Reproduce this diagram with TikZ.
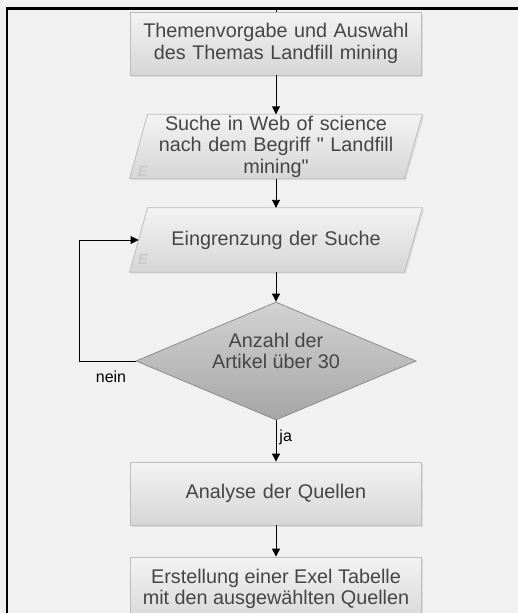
\documentclass[tikz,border=0pt]{standalone}
\usepackage{fontspec}
\setmainfont{Liberation Sans}[Ligatures=TeXOff]
\usetikzlibrary{arrows.meta,shapes.geometric,calc,shadows}
\definecolor{bg}{HTML}{F1F1F1}
\definecolor{txtc}{HTML}{454545}
\definecolor{boxtop}{HTML}{F3F3F3}
\definecolor{boxbot}{HTML}{D6D6D6}
\definecolor{boxline}{HTML}{BDBDBD}
\definecolor{diatop}{HTML}{D2D2D2}
\definecolor{diabot}{HTML}{A6A6A6}
\definecolor{dialine}{HTML}{8C8C8C}
\definecolor{emark}{HTML}{C9C9C9}
\tikzset{
  mainfont/.style={font=\fontsize{19.8}{21.5}\selectfont, text=txtc},
  boxstyle/.style={rectangle, draw=boxline, line width=0.8pt, top color=boxtop, bottom color=boxbot,
    drop shadow={opacity=0.18, shadow xshift=1.5pt, shadow yshift=-1.5pt},
    minimum width=291pt, minimum height=63pt, text width=285pt, align=center,
    mainfont, inner sep=0pt},
  paranode/.style={rectangle, minimum width=274.5pt, minimum height=64pt, text width=260pt, align=center,
    mainfont, inner sep=0pt},
  parafill/.style={draw=boxline, line width=0.8pt, top color=boxtop, bottom color=boxbot,
    drop shadow={opacity=0.18, shadow xshift=1.5pt, shadow yshift=-1.5pt}},
  diastyle/.style={diamond, draw=dialine, line width=0.8pt, top color=diatop, bottom color=diabot,
    minimum width=280pt, minimum height=118pt, aspect=2.37, inner sep=0pt},
  arr/.style={-{Triangle[length=8pt,width=8pt]}, line width=0.9pt, black},
  lbl/.style={font=\fontsize{16}{18}\selectfont, text=black, inner sep=0pt},
  emk/.style={font=\bfseries\itshape\fontsize{15}{15}\selectfont, text=emark, inner sep=0pt},
  frame/.style={line width=2.5pt, black}
}
\begin{document}
\begin{tikzpicture}[x=1pt,y=-1pt]
  \useasboundingbox (0,0) rectangle (518,613);
  \clip (0,0) rectangle (518,613);
  \fill[bg] (0,0) rectangle (518,613);

  % box 1
  \node[boxstyle] (b1) at (276,43.5) {Themenvorgabe und Auswahl\\des Themas Landfill mining};

  % parallelogram 2
  \node[paranode] (p2) at (276,146.5) {};
  \path[parafill] ($(p2.south west)+(-9,0)$) -- ($(p2.north west)+(9,0)$) -- ($(p2.north east)+(9,0)$) -- ($(p2.south east)+(-9,0)$) -- cycle;
  \node[emk] (e2) at (143,171) {E};
  \node[paranode] at (p2) {Suche in Web of science\\nach dem Begriff " Landfill\\mining"};

  % parallelogram 3
  \node[paranode] (p3) at (276,240) {};
  \path[parafill] ($(p3.south west)+(-9,0)$) -- ($(p3.north west)+(9,0)$) -- ($(p3.north east)+(9,0)$) -- ($(p3.south east)+(-9,0)$) -- cycle;
  \node[emk] (e3) at (143,259) {E};
  \node[paranode] at (p3) {Eingrenzung der Suche};

  % decision
  \node[diastyle] (d) at (276,361) {};
  \node[mainfont, align=center, inner sep=0pt] (dt) at (276,351) {Anzahl der\\Artikel über 30};

  % box 4
  \node[boxstyle] (b4) at (276,493.5) {Analyse der Quellen};

  % box 5
  \node[boxstyle, minimum height=68pt] (b5) at (276,591) {};
  \node[mainfont, align=center, inner sep=0pt] (t5) at (276,589) {Erstellung einer Exel Tabelle\\mit den ausgewählten Quellen};

  % connectors
  \coordinate (top) at (276,9);
  \draw[line width=0.9pt] (top) -- (b1.north);
  \draw[arr] (b1.south) -- (p2.north);
  \draw[arr] (p2.south) -- (p3.north);
  \draw[arr] (p3.south) -- (d.north);
  \draw[arr] (d.south) -- node[lbl, right=3pt, pos=0.4] (ja) {ja} (b4.north);
  \draw[arr] (b4.south) -- (b5.north);
  \coordinate (lp) at (79,0);
  \draw[arr] (d.west) -- (d.west -| lp) -- (p3.west -| lp) -- (p3.west);
  \node[lbl] (nein) at (111,377) {nein};

  % frame
  \draw[frame] (7,613) -- (7,8.5) -- (518,8.5);
\end{tikzpicture}
\end{document}
